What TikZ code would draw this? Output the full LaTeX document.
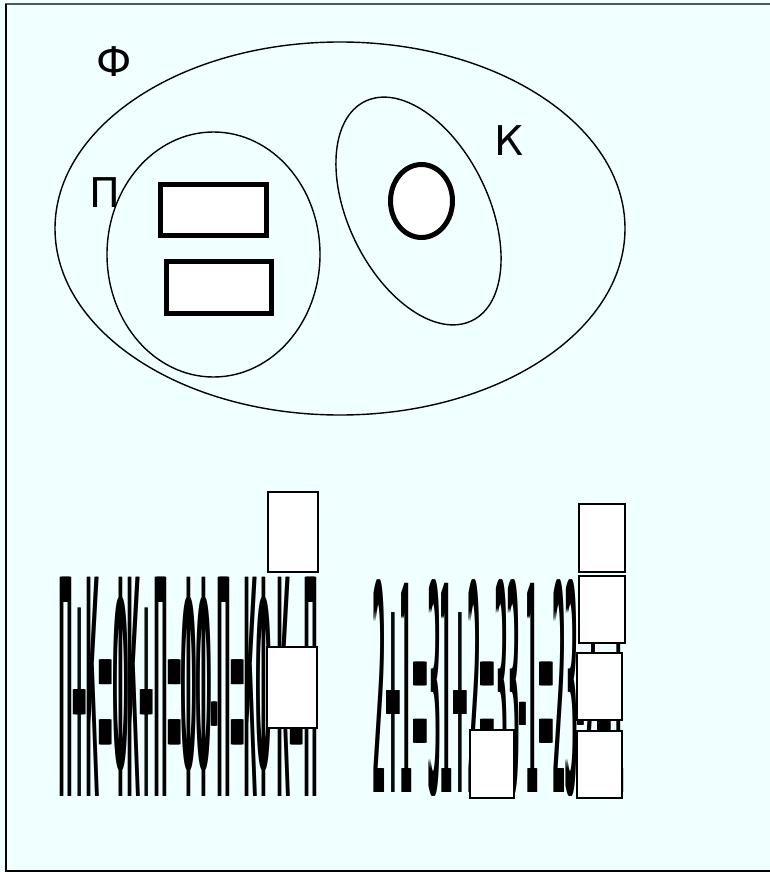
\documentclass[tikz,border=0pt]{standalone}
\usepackage{fontspec}
\setmainfont{DejaVu Sans}
\usepackage{graphicx}
\usetikzlibrary{shapes.geometric}
\definecolor{bgc}{HTML}{F0FFFF}
\definecolor{topline}{HTML}{505858}
\tikzset{
  setell/.style={draw=black, line width=1.4pt, ellipse, inner sep=0pt},
  thickbox/.style={draw=black, line width=5pt, fill=white, rectangle, inner sep=0pt},
  thickring/.style={draw=black, line width=5pt, fill=white, ellipse, inner sep=0pt},
  cover/.style={draw=black, line width=1.5pt, fill=white, rectangle, inner sep=0pt},
  lab/.style={font=\fontsize{41}{41}\selectfont, inner sep=0pt, anchor=base},
  eqtext/.style={inner sep=0pt, anchor=south west}
}
% heavy, horizontally squeezed text: overprint with 1pt shifts to thicken the stems
\newcommand{\heavy}[1]{\rlap{#1}\hspace{1pt}\rlap{#1}\hspace{1pt}#1}
\newcommand{\eqleft}{\resizebox*{258pt}{219pt}{П+К=ФК+П=ФФ-П=КФ-К=П}}
\newcommand{\eqright}{\resizebox*{251pt}{217pt}{2+1=31+2=33-1=23-2=1}}
\begin{document}
\begin{tikzpicture}[x=1pt,y=-1pt]
\fill[bgc] (0,0) rectangle (770,872);
\useasboundingbox (0,0) rectangle (770,872);
% frame
\draw[topline, line width=1.5pt] (5,4) -- (770,4);
\draw[black, line width=2pt] (6,4) -- (6,870.5) -- (770,870.5);

% sets
\node[setell, minimum width=570pt, minimum height=373pt] (F) at (340,228.5) {};
\node[setell, minimum width=213pt, minimum height=245pt] (P) at (213.5,254.5) {};
\node[setell, minimum width=140pt, minimum height=244pt, rotate=26] (K) at (418.5,211) {};

% elements
\node[thickbox, minimum width=106pt, minimum height=51pt] (r1) at (213.5,210) {};
\node[thickbox, minimum width=105pt, minimum height=52pt] (r2) at (219,287.5) {};
\node[thickring, minimum width=62pt, minimum height=73pt] (c1) at (421.5,201) {};

% labels
\node[lab] (lF) at (114,77) {Ф};
\node[lab] (lP) at (105,207) {П};
\node[lab] (lK) at (509.5,155) {К};

% compressed equations
\node[eqtext] (eq1) at (58,797) {\heavy{\eqleft}};
\node[eqtext] (eq2) at (372,797) {\heavy{\eqright}};

% covering boxes
\node[cover, minimum width=50pt, minimum height=80pt] (bF) at (293,532) {};
\node[cover, minimum width=50pt, minimum height=81pt] (bG) at (292,687.5) {};
\node[cover, minimum width=46pt, minimum height=68pt] (bA) at (602,538) {};
\node[cover, minimum width=46pt, minimum height=67pt] (bB) at (602,609.5) {};
\node[cover, minimum width=45pt, minimum height=67pt] (bC) at (599.5,686.5) {};
\node[cover, minimum width=45pt, minimum height=67pt] (bD) at (599.5,764.5) {};
\node[cover, minimum width=44pt, minimum height=68pt] (bE) at (492,764) {};
\end{tikzpicture}
\end{document}
